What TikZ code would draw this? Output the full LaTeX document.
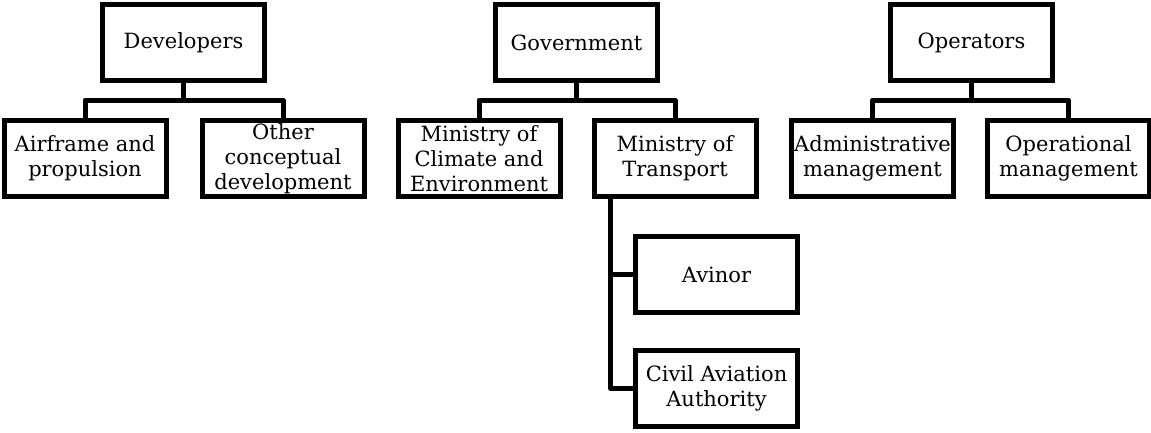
\documentclass[tikz,border=0pt]{standalone}
\usepackage{fontspec}
\setmainfont{DejaVu Serif}
\usepackage{tikz}
\usetikzlibrary{calc}

\begin{document}
\begin{tikzpicture}[x=1pt, y=-1pt,
        box/.style={rectangle, draw=black, line width=5pt, fill=white, minimum width=162pt, minimum height=76pt, inner sep=0pt, align=center, font=\fontsize{21}{25}\selectfont},
        conn/.style={draw=black, line width=5pt, line join=round}]
        \useasboundingbox (0,0) rectangle (1151,432);
        % top level
        \node [box] (dev) at (183.5,42.5) {Developers};
        \node [box] (gov) at (576.5,42.5) {Government};
        \node [box] (ope) at (971.5,42.5) {Operators};
        % second level
        \node [box] (air) at (85,158.5) {Airframe and\\propulsion};
        \node [box] (oth) at (283,158.5) {Other\\conceptual\\development};
        \node [box] (moce) at (479,158.5) {Ministry of\\Climate and\\Environment};
        \node [box] (mot) at (675,158.5) {Ministry of\\Transport};
        \node [box] (adm) at (872.5,158.5) {Administrative\\management};
        \node [box] (opm) at (1068.5,158.5) {Operational\\management};
        % under transport
        \node [box] (avi) at (716.5,274.5) {Avinor};
        \node [box] (caa) at (716.5,388.5) {Civil Aviation\\Authority};
        \draw[conn] (dev.south) -- ++(0,17) -| (air.north);
        \draw[conn] (dev.south) -- ++(0,17) -| (oth.north);
        \draw[conn] (gov.south) -- ++(0,17) -| (moce.north);
        \draw[conn] (gov.south) -- ++(0,17) -| (mot.north);
        \draw[conn] (ope.south) -- ++(0,17) -| (adm.north);
        \draw[conn] (ope.south) -- ++(0,17) -| (opm.north);
        \draw[conn] ($(mot.south west)+(19,0)$) |- (avi.west);
        \draw[conn] ($(mot.south west)+(19,0)$) |- (caa.west);
    \end{tikzpicture}
\end{document}
